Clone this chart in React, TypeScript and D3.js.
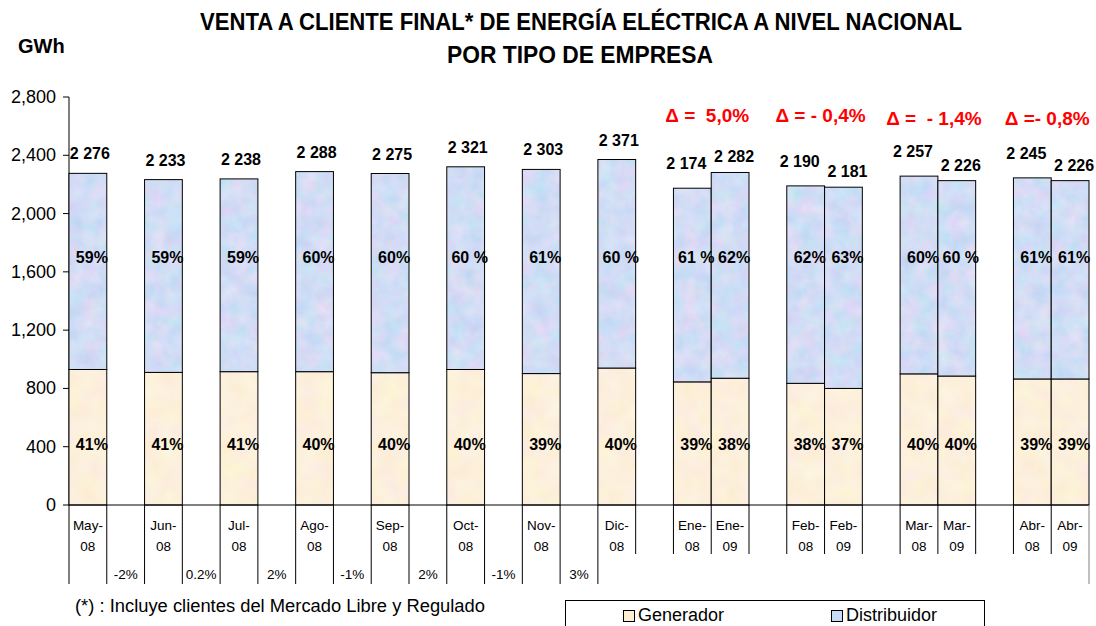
import React, { useRef, useEffect } from 'react';
import * as d3 from 'd3';

// Category axis: bars and the gap columns that hold the monthly variation
const ejeX = ['May-08', 'v1', 'Jun-08', 'v2', 'Jul-08', 'v3', 'Ago-08', 'v4', 'Sep-08', 'v5', 'Oct-08', 'v6', 'Nov-08', 'v7', 'Dic-08', 's1', 'Ene-08', 'Ene-09', 's2', 'Feb-08', 'Feb-09', 's3', 'Mar-08', 'Mar-09', 's4', 'Abr-08', 'Abr-09'];

const categorias = ['May-08', 'Jun-08', 'Jul-08', 'Ago-08', 'Sep-08', 'Oct-08', 'Nov-08', 'Dic-08', 'Ene-08', 'Ene-09', 'Feb-08', 'Feb-09', 'Mar-08', 'Mar-09', 'Abr-08', 'Abr-09'];
const totales = [2276, 2233, 2238, 2288, 2275, 2321, 2303, 2371, 2174, 2282, 2190, 2181, 2257, 2226, 2245, 2226];
const generador = [930, 910, 915, 915, 908, 930, 902, 940, 845, 870, 835, 800, 900, 885, 865, 865];
const distribuidor = [1346, 1323, 1323, 1373, 1367, 1391, 1401, 1431, 1329, 1412, 1355, 1381, 1357, 1341, 1380, 1361];
const pctGenerador = ['41%', '41%', '41%', '40%', '40%', '40%', '39%', '40%', '39%', '38%', '38%', '37%', '40%', '40%', '39%', '39%'];
const pctDistribuidor = ['59%', '59%', '59%', '60%', '60%', '60 %', '61%', '60 %', '61 %', '62%', '62%', '63%', '60%', '60 %', '61%', '61%'];

// monthly variation shown under the axis, in the gap columns
const variacionCols = ['v1', 'v2', 'v3', 'v4', 'v5', 'v6', 'v7'];
const variaciones = ['-2%', '0.2%', '2%', '-1%', '2%', '-1%', '3%'];

// year-on-year deltas, placed over each pair
const pares = [['Ene-08', 'Ene-09'], ['Feb-08', 'Feb-09'], ['Mar-08', 'Mar-09'], ['Abr-08', 'Abr-09']];
const deltas = ['\u0394 =  5,0%', '\u0394 = - 0,4%', '\u0394 =  - 1,4%', '\u0394 =- 0,8%'];

const yTicks = [0, 400, 800, 1200, 1600, 2000, 2400, 2800];

const FONT = '"Liberation Sans", Arial, sans-serif';

const App = () => {
  const svgRef = useRef();

  useEffect(() => {
    const svg = d3.select(svgRef.current);
    svg.selectAll('*').remove();

    const left = 69;
    const right = 1089;
    const top = 97;
    const bottom = 505;

    const x = d3.scaleBand().domain(ejeX).range([left, right]).padding(0);
    const y = d3.scaleLinear().domain([0, 2800]).range([bottom, top]);
    const bw = x.bandwidth();

    // textures (Excel-like mottled fills)
    const defs = svg.append('defs');
    const fDist = defs.append('filter').attr('id', 'texDist')
      .attr('x', 0).attr('y', 0).attr('width', 1).attr('height', 1)
      .attr('color-interpolation-filters', 'sRGB');
    fDist.append('feTurbulence').attr('type', 'fractalNoise').attr('baseFrequency', 0.06).attr('numOctaves', 3).attr('seed', 4);
    fDist.append('feColorMatrix').attr('type', 'matrix')
      .attr('values', '0.22 0 0 0 0.71  0 0.1 0 0 0.815  0 0 0.04 0 0.94  0 0 0 0 1');
    const pDist = defs.append('pattern').attr('id', 'patDist').attr('patternUnits', 'userSpaceOnUse')
      .attr('width', 1096).attr('height', 626);
    pDist.append('rect').attr('width', 1096).attr('height', 626).attr('filter', 'url(#texDist)');

    const fGen = defs.append('filter').attr('id', 'texGen')
      .attr('x', 0).attr('y', 0).attr('width', 1).attr('height', 1)
      .attr('color-interpolation-filters', 'sRGB');
    fGen.append('feTurbulence').attr('type', 'fractalNoise').attr('baseFrequency', 0.05).attr('numOctaves', 2).attr('seed', 9);
    fGen.append('feColorMatrix').attr('type', 'matrix')
      .attr('values', '0 0 0 0 0.99  0 0.06 0 0 0.91  0 0 0.1 0 0.81  0 0 0 0 1');
    const pGen = defs.append('pattern').attr('id', 'patGen').attr('patternUnits', 'userSpaceOnUse')
      .attr('width', 1096).attr('height', 626);
    pGen.append('rect').attr('width', 1096).attr('height', 626).attr('filter', 'url(#texGen)');

    // title
    svg.append('text')
      .attr('x', 581).attr('y', 30)
      .attr('text-anchor', 'middle')
      .attr('textLength', 762).attr('lengthAdjust', 'spacingAndGlyphs')
      .style('font', `bold 24px ${FONT}`)
      .text('VENTA A CLIENTE FINAL* DE ENERGÍA ELÉCTRICA A NIVEL NACIONAL');
    svg.append('text')
      .attr('x', 580).attr('y', 63)
      .attr('text-anchor', 'middle')
      .attr('textLength', 266).attr('lengthAdjust', 'spacingAndGlyphs')
      .style('font', `bold 24px ${FONT}`)
      .text('POR TIPO DE EMPRESA');

    svg.append('text')
      .attr('x', 18).attr('y', 53)
      .style('font', `bold 20px ${FONT}`)
      .text('GWh');

    // y axis
    const yAxis = svg.append('g');
    yAxis.append('line')
      .attr('x1', left).attr('x2', left).attr('y1', top).attr('y2', bottom)
      .attr('stroke', '#000');
    yTicks.forEach((t) => {
      yAxis.append('line')
        .attr('x1', left - 6).attr('x2', left).attr('y1', y(t)).attr('y2', y(t))
        .attr('stroke', '#000');
      yAxis.append('text')
        .attr('x', 56).attr('y', y(t) + 6)
        .attr('text-anchor', 'end')
        .style('font', `18px ${FONT}`)
        .text(d3.format(',')(t));
    });

    // bars
    const bars = svg.append('g');
    categorias.forEach((c, i) => {
      const x0 = x(c);
      bars.append('rect')
        .attr('x', x0).attr('width', bw)
        .attr('y', y(generador[i])).attr('height', bottom - y(generador[i]))
        .attr('fill', 'url(#patGen)').attr('stroke', '#000').attr('stroke-width', 1);
      bars.append('rect')
        .attr('x', x0).attr('width', bw)
        .attr('y', y(generador[i] + distribuidor[i])).attr('height', y(generador[i]) - y(generador[i] + distribuidor[i]))
        .attr('fill', 'url(#patDist)').attr('stroke', '#000').attr('stroke-width', 1);
    });

    // labels on bars
    const isFirst = (c) => pares.some((p) => p[0] === c);
    const isSecond = (c) => pares.some((p) => p[1] === c);
    categorias.forEach((c, i) => {
      const cx = x(c) + bw / 2;
      let dx = 2;
      let dy = -14;
      if (isFirst(c)) { dx = -6; dy = -19; }
      if (isSecond(c)) { dx = 4; dy = -10; }
      svg.append('text')
        .attr('x', cx + dx).attr('y', y(totales[i]) + dy)
        .attr('text-anchor', 'middle')
        .style('font', `bold 16px ${FONT}`)
        .style('white-space', 'pre')
        .text(d3.format(',')(totales[i]).replace(',', ' '));
      svg.append('text')
        .attr('x', cx + 4).attr('y', y(1700) + 6)
        .attr('text-anchor', 'middle')
        .style('font', `bold 16px ${FONT}`)
        .style('white-space', 'pre')
        .text(pctDistribuidor[i]);
      svg.append('text')
        .attr('x', cx + 4).attr('y', y(420) + 6)
        .attr('text-anchor', 'middle')
        .style('font', `bold 16px ${FONT}`)
        .style('white-space', 'pre')
        .text(pctGenerador[i]);
    });

    // deltas
    pares.forEach((p, i) => {
      const cx = x(p[1]) - 4;
      svg.append('text')
        .attr('x', cx).attr('y', i < 2 ? 122 : 125)
        .attr('text-anchor', 'middle')
        .attr('fill', '#FF0000')
        .style('font', `bold 19px ${FONT}`)
        .style('white-space', 'pre')
        .text(deltas[i]);
    });

    // x axis: baseline, column separators and labels
    const xAxis = svg.append('g');
    xAxis.append('line')
      .attr('x1', left).attr('x2', right).attr('y1', bottom).attr('y2', bottom)
      .attr('stroke', '#000');
    const firstShort = ejeX.indexOf('s1');
    d3.range(ejeX.length + 1).forEach((k) => {
      const xx = k < ejeX.length ? x(ejeX[k]) : right;
      const long = k < firstShort || k === ejeX.length;
      xAxis.append('line')
        .attr('x1', xx).attr('x2', xx)
        .attr('y1', bottom).attr('y2', long ? 584 : 554)
        .attr('stroke', k === ejeX.length ? '#808080' : '#000');
    });
    categorias.forEach((c) => {
      const [m, yy] = c.split('-');
      const cx = x(c) + bw / 2;
      xAxis.append('text')
        .attr('x', cx).attr('y', 530)
        .attr('text-anchor', 'middle')
        .style('font', `13.5px ${FONT}`)
        .text(`${m}-`);
      xAxis.append('text')
        .attr('x', cx).attr('y', 551)
        .attr('text-anchor', 'middle')
        .style('font', `13.5px ${FONT}`)
        .text(yy);
    });
    variacionCols.forEach((c, i) => {
      xAxis.append('text')
        .attr('x', x(c) + bw / 2).attr('y', 579)
        .attr('text-anchor', 'middle')
        .style('font', `13.5px ${FONT}`)
        .text(variaciones[i]);
    });

    // footnote
    svg.append('text')
      .attr('x', 75).attr('y', 612)
      .attr('textLength', 410).attr('lengthAdjust', 'spacingAndGlyphs')
      .style('font', `17.5px ${FONT}`)
      .text('(*) : Incluye clientes del Mercado Libre y Regulado');

    // legend
    const lg = svg.append('g');
    lg.append('rect')
      .attr('x', 565.5).attr('y', 600.5).attr('width', 419).attr('height', 40)
      .attr('fill', '#fff').attr('stroke', '#000');
    [['Generador', '#FCEFD6', 623], ['Distribuidor', '#C9DAF5', 831]].forEach(([name, col, lx]) => {
      lg.append('rect')
        .attr('x', lx + 0.5).attr('y', 610.5).attr('width', 11).attr('height', 11)
        .attr('fill', col).attr('stroke', '#000');
      lg.append('text')
        .attr('x', lx + 15).attr('y', 621)
        .style('font', `18px ${FONT}`)
        .text(name);
    });
  }, []);

  return (
    <div>
      <svg ref={svgRef} width={1096} height={626} style={{ position: 'absolute', left: 0, top: 0, background: '#fff' }} />
    </div>
  );
};

export default App;
